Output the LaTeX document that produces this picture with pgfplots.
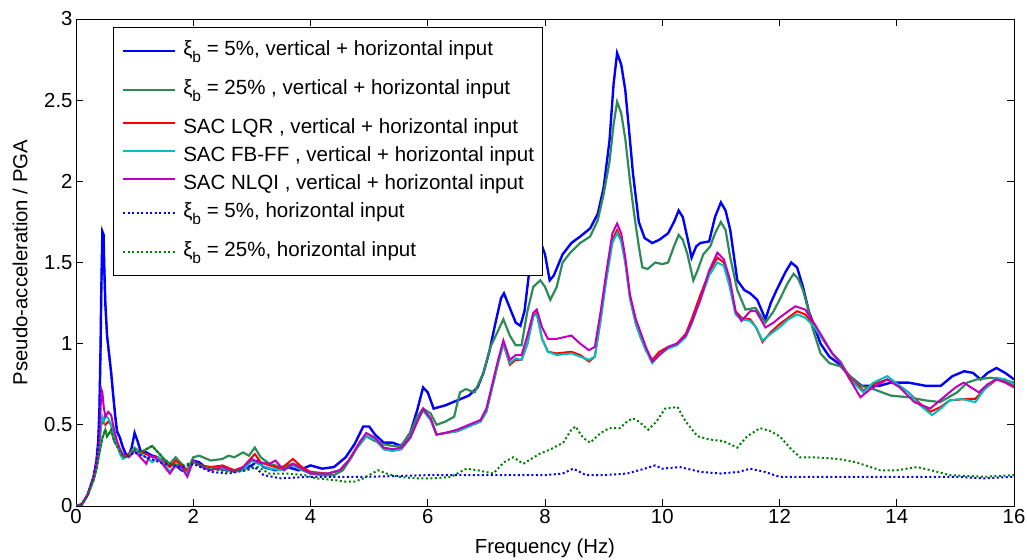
\documentclass[border=0pt]{standalone}
\usepackage{fontspec}
\setmainfont{Liberation Sans}
\usepackage{pgfplots}
\pgfplotsset{compat=1.18}
\definecolor{cB}{RGB}{0,0,255}
\definecolor{cG}{RGB}{46,139,87}
\definecolor{cR}{RGB}{255,0,0}
\definecolor{cC}{RGB}{0,191,191}
\definecolor{cM}{RGB}{191,0,191}
\definecolor{cGd}{RGB}{0,128,0}
\newcommand\sub[1]{\raisebox{-0.33em}{\fontsize{15.5}{15.5}\selectfont #1}}
\tikzset{xrow/.style={text height=24bp, text depth=15bp},
  prow/.style={text height=23.8bp, text depth=4.2bp}}
\begin{document}
\begin{tikzpicture}
\useasboundingbox (0,0) rectangle (1027bp,560bp);
\begin{axis}[
  at={(76bp,54bp)}, anchor=south west,
  width=938bp, height=487bp, scale only axis,
  xmin=0, xmax=16, ymin=0, ymax=3,
  xtick={0,2,...,16}, ytick={0,0.5,...,3},
  tick align=inside, major tick length=7bp,
  axis line style={black, line width=0.8bp},
  every tick/.style={black, line width=0.8bp},
  /pgf/number format/assume math mode=true,
  tick label style={font=\fontsize{20.4}{24}\selectfont},
  label style={font=\fontsize{20.4}{24}\selectfont},
  xlabel={Frequency (Hz)},
  ylabel={Pseudo-acceleration / PGA},
  xlabel style={at={(axis description cs:0.5,-0.0862)}, anchor=center},
  ylabel style={at={(axis description cs:-0.0597,0.5)}, anchor=center, rotate=0},
  legend image code/.code={\draw[#1] (0bp,0bp) -- (52bp,0bp);},
  legend style={at={(37bp,479bp)}, anchor=north west, draw=black, fill=white,
    line width=0.8bp, font=\fontsize{20.6}{24}\selectfont, cells={anchor=west},
    nodes={inner sep=0bp}, column sep=7bp,
    row sep=0bp, inner xsep=8.5bp, inner ysep=4bp},
  legend cell align=left,
]
\addplot[cB, line width=2.4bp] coordinates {
(0,0) (0.1,0.01) (0.2,0.07) (0.3,0.18) (0.35,0.28) (0.38,0.4) (0.4,0.6) (0.42,1.0) (0.43,1.3) (0.45,1.69) (0.47,1.67) (0.48,1.5) (0.5,1.25) (0.53,1.05) (0.56,0.95) (0.6,0.82) (0.63,0.7) (0.67,0.55) (0.7,0.46) (0.75,0.42) (0.8,0.36) (0.85,0.32) (0.9,0.31) (0.95,0.36) (1.0,0.45) (1.05,0.4) (1.1,0.34) (1.2,0.33) (1.3,0.31) (1.4,0.3) (1.5,0.27) (1.6,0.26) (1.7,0.25) (1.8,0.22) (1.9,0.21) (2.0,0.28) (2.1,0.27) (2.2,0.24) (2.4,0.23) (2.6,0.22) (2.8,0.22) (3.0,0.25) (3.1,0.28) (3.2,0.24) (3.4,0.22) (3.6,0.24) (3.8,0.22) (4.0,0.25) (4.2,0.23) (4.4,0.24) (4.6,0.3) (4.75,0.38) (4.9,0.49) (5.0,0.49) (5.1,0.44) (5.25,0.39) (5.4,0.39) (5.55,0.37) (5.7,0.45) (5.82,0.59) (5.92,0.73) (6.0,0.7) (6.1,0.6) (6.3,0.62) (6.5,0.65) (6.7,0.68) (6.85,0.73) (6.95,0.82) (7.05,0.95) (7.15,1.12) (7.25,1.28) (7.3,1.31) (7.4,1.22) (7.5,1.13) (7.58,1.11) (7.65,1.2) (7.75,1.5) (7.85,1.65) (7.95,1.6) (8.0,1.55) (8.08,1.39) (8.15,1.42) (8.3,1.55) (8.45,1.62) (8.6,1.66) (8.77,1.71) (8.9,1.8) (9.0,1.96) (9.1,2.25) (9.17,2.6) (9.23,2.79) (9.3,2.72) (9.37,2.56) (9.45,2.25) (9.5,2.05) (9.6,1.75) (9.7,1.65) (9.83,1.62) (9.95,1.64) (10.1,1.68) (10.2,1.75) (10.28,1.82) (10.35,1.78) (10.43,1.65) (10.5,1.53) (10.58,1.6) (10.65,1.62) (10.8,1.63) (10.9,1.78) (11.0,1.87) (11.08,1.82) (11.16,1.7) (11.28,1.39) (11.4,1.33) (11.5,1.31) (11.62,1.27) (11.76,1.15) (11.85,1.25) (11.95,1.33) (12.1,1.44) (12.2,1.5) (12.3,1.47) (12.4,1.35) (12.5,1.2) (12.6,1.1) (12.7,1.0) (12.85,0.92) (13.0,0.88) (13.2,0.8) (13.4,0.74) (13.7,0.74) (13.9,0.76) (14.2,0.76) (14.5,0.74) (14.75,0.74) (14.95,0.8) (15.15,0.83) (15.3,0.82) (15.43,0.78) (15.55,0.82) (15.7,0.85) (15.85,0.82) (16,0.78)
};
\addlegendentry[xrow]{ξ\sub{b} = 5\%, vertical + horizontal input}
\addplot[cG, line width=2.2bp] coordinates {
(0,0) (0.1,0.01) (0.2,0.07) (0.3,0.16) (0.35,0.23) (0.4,0.33) (0.45,0.42) (0.5,0.47) (0.53,0.43) (0.57,0.45) (0.6,0.47) (0.65,0.4) (0.7,0.37) (0.8,0.3) (0.9,0.31) (1.0,0.35) (1.1,0.33) (1.2,0.35) (1.3,0.37) (1.4,0.33) (1.5,0.29) (1.6,0.26) (1.7,0.3) (1.8,0.26) (1.9,0.22) (2.0,0.3) (2.1,0.31) (2.3,0.28) (2.5,0.29) (2.6,0.31) (2.7,0.3) (2.85,0.33) (2.95,0.31) (3.05,0.36) (3.15,0.3) (3.3,0.26) (3.5,0.24) (3.7,0.26) (3.85,0.24) (4.0,0.2) (4.2,0.19) (4.4,0.19) (4.55,0.22) (4.7,0.3) (4.85,0.4) (4.95,0.43) (5.1,0.4) (5.25,0.38) (5.4,0.37) (5.55,0.37) (5.7,0.45) (5.82,0.55) (5.92,0.6) (6.05,0.57) (6.15,0.5) (6.3,0.52) (6.45,0.55) (6.55,0.7) (6.65,0.72) (6.8,0.7) (6.95,0.82) (7.07,0.98) (7.2,1.08) (7.29,1.15) (7.4,1.05) (7.5,0.99) (7.6,0.99) (7.7,1.2) (7.8,1.35) (7.92,1.39) (8.0,1.35) (8.09,1.27) (8.2,1.35) (8.3,1.5) (8.43,1.56) (8.6,1.62) (8.77,1.66) (8.9,1.76) (9.0,1.92) (9.1,2.12) (9.17,2.35) (9.23,2.49) (9.3,2.42) (9.37,2.26) (9.45,2.0) (9.52,1.8) (9.6,1.6) (9.66,1.47) (9.75,1.46) (9.88,1.5) (10.0,1.49) (10.1,1.5) (10.2,1.6) (10.28,1.67) (10.35,1.64) (10.43,1.55) (10.53,1.39) (10.6,1.45) (10.7,1.55) (10.82,1.6) (10.9,1.68) (11.0,1.75) (11.08,1.7) (11.16,1.53) (11.28,1.33) (11.42,1.21) (11.59,1.22) (11.76,1.13) (11.9,1.2) (12.0,1.27) (12.15,1.38) (12.24,1.43) (12.32,1.4) (12.4,1.33) (12.5,1.2) (12.56,1.1) (12.7,0.94) (12.85,0.88) (13.04,0.86) (13.2,0.8) (13.38,0.74) (13.6,0.72) (13.9,0.68) (14.2,0.67) (14.5,0.65) (14.74,0.64) (15.03,0.7) (15.2,0.76) (15.37,0.78) (15.6,0.79) (15.8,0.78) (16,0.76)
};
\addlegendentry[xrow]{ξ\sub{b} = 25\% , vertical + horizontal input}
\addplot[cR, line width=2bp] coordinates {
(0,0) (0.1,0.01) (0.2,0.07) (0.3,0.17) (0.35,0.26) (0.4,0.4) (0.43,0.5) (0.45,0.52) (0.5,0.5) (0.55,0.52) (0.6,0.5) (0.65,0.44) (0.7,0.38) (0.75,0.33) (0.8,0.3) (0.9,0.32) (1.0,0.36) (1.1,0.33) (1.2,0.32) (1.3,0.3) (1.4,0.3) (1.5,0.27) (1.6,0.24) (1.7,0.28) (1.8,0.25) (1.9,0.21) (2.0,0.27) (2.15,0.25) (2.3,0.24) (2.5,0.25) (2.7,0.22) (2.85,0.24) (3.05,0.32) (3.15,0.27) (3.3,0.25) (3.5,0.23) (3.7,0.29) (3.85,0.24) (4.0,0.21) (4.3,0.2) (4.5,0.22) (4.65,0.28) (4.8,0.36) (4.95,0.43) (5.1,0.41) (5.25,0.35) (5.4,0.34) (5.55,0.35) (5.7,0.42) (5.82,0.52) (5.92,0.59) (6.05,0.53) (6.15,0.44) (6.3,0.45) (6.5,0.46) (6.7,0.49) (6.9,0.52) (7.0,0.58) (7.1,0.73) (7.2,0.88) (7.29,1.0) (7.4,0.87) (7.5,0.9) (7.6,0.9) (7.7,1.0) (7.8,1.17) (7.86,1.19) (7.95,1.03) (8.05,0.95) (8.2,0.94) (8.45,0.95) (8.6,0.93) (8.75,0.89) (8.85,0.92) (8.95,1.15) (9.05,1.42) (9.15,1.64) (9.23,1.7) (9.3,1.64) (9.37,1.5) (9.45,1.28) (9.55,1.12) (9.62,1.05) (9.72,0.96) (9.83,0.9) (9.95,0.95) (10.1,0.98) (10.25,1.0) (10.4,1.06) (10.5,1.15) (10.65,1.3) (10.8,1.44) (10.94,1.53) (11.05,1.5) (11.15,1.37) (11.25,1.2) (11.35,1.16) (11.5,1.15) (11.6,1.1) (11.71,1.01) (11.85,1.07) (12.0,1.12) (12.15,1.16) (12.3,1.2) (12.44,1.18) (12.6,1.11) (12.75,1.02) (12.9,0.94) (13.04,0.89) (13.2,0.79) (13.43,0.71) (13.6,0.75) (13.84,0.78) (14.05,0.74) (14.2,0.7) (14.4,0.63) (14.57,0.58) (14.75,0.61) (14.9,0.65) (15.2,0.66) (15.34,0.66) (15.5,0.72) (15.7,0.78) (15.85,0.77) (16,0.74)
};
\addlegendentry[prow]{SAC LQR , vertical + horizontal input}
\addplot[cC, line width=2bp] coordinates {
(0,0) (0.1,0.01) (0.2,0.07) (0.3,0.17) (0.35,0.26) (0.4,0.4) (0.43,0.5) (0.45,0.55) (0.48,0.52) (0.5,0.56) (0.55,0.54) (0.6,0.5) (0.65,0.44) (0.7,0.38) (0.75,0.32) (0.8,0.29) (0.9,0.31) (1.0,0.36) (1.1,0.32) (1.2,0.3) (1.3,0.27) (1.4,0.3) (1.5,0.26) (1.6,0.21) (1.7,0.26) (1.8,0.23) (1.9,0.2) (2.0,0.27) (2.15,0.24) (2.3,0.23) (2.5,0.23) (2.7,0.21) (2.85,0.22) (3.0,0.28) (3.1,0.26) (3.3,0.23) (3.5,0.22) (3.7,0.25) (3.85,0.22) (4.0,0.2) (4.3,0.2) (4.5,0.22) (4.65,0.28) (4.8,0.36) (4.95,0.43) (5.1,0.41) (5.25,0.35) (5.4,0.34) (5.55,0.35) (5.7,0.42) (5.82,0.52) (5.92,0.59) (6.05,0.53) (6.15,0.44) (6.3,0.45) (6.5,0.46) (6.7,0.49) (6.9,0.52) (7.0,0.58) (7.1,0.73) (7.2,0.88) (7.29,1.0) (7.4,0.88) (7.5,0.91) (7.6,0.9) (7.7,1.0) (7.8,1.17) (7.86,1.18) (7.95,1.03) (8.05,0.95) (8.2,0.93) (8.45,0.94) (8.6,0.92) (8.75,0.9) (8.85,0.92) (8.95,1.15) (9.05,1.4) (9.15,1.62) (9.23,1.68) (9.3,1.63) (9.37,1.5) (9.45,1.28) (9.55,1.12) (9.62,1.05) (9.72,0.96) (9.83,0.88) (9.95,0.93) (10.1,0.97) (10.25,0.99) (10.4,1.04) (10.5,1.12) (10.65,1.27) (10.8,1.42) (10.94,1.5) (11.05,1.48) (11.15,1.35) (11.25,1.18) (11.35,1.15) (11.5,1.14) (11.6,1.1) (11.71,1.02) (11.85,1.06) (12.0,1.1) (12.15,1.15) (12.3,1.18) (12.44,1.16) (12.6,1.1) (12.75,1.02) (12.9,0.94) (13.04,0.89) (13.2,0.78) (13.43,0.7) (13.6,0.76) (13.84,0.8) (14.05,0.74) (14.2,0.7) (14.4,0.62) (14.6,0.56) (14.75,0.6) (14.9,0.65) (15.1,0.66) (15.34,0.64) (15.5,0.72) (15.7,0.79) (15.85,0.78) (16,0.75)
};
\addlegendentry[prow]{SAC FB-FF , vertical + horizontal input}
\addplot[cM, line width=2bp] coordinates {
(0,0) (0.1,0.01) (0.2,0.07) (0.3,0.18) (0.35,0.27) (0.4,0.42) (0.42,0.6) (0.43,0.72) (0.45,0.7) (0.47,0.62) (0.5,0.55) (0.55,0.58) (0.6,0.56) (0.65,0.47) (0.7,0.4) (0.75,0.35) (0.8,0.32) (0.9,0.3) (1.0,0.34) (1.1,0.3) (1.2,0.26) (1.25,0.31) (1.35,0.3) (1.45,0.27) (1.6,0.2) (1.7,0.25) (1.8,0.24) (1.9,0.18) (2.0,0.28) (2.15,0.24) (2.3,0.22) (2.5,0.24) (2.7,0.21) (2.85,0.24) (3.0,0.29) (3.1,0.27) (3.3,0.26) (3.4,0.28) (3.55,0.22) (3.7,0.26) (3.85,0.23) (4.0,0.2) (4.3,0.2) (4.5,0.22) (4.65,0.28) (4.8,0.37) (4.95,0.45) (5.1,0.42) (5.25,0.36) (5.4,0.35) (5.55,0.36) (5.7,0.42) (5.82,0.52) (5.92,0.6) (6.05,0.54) (6.15,0.44) (6.3,0.45) (6.5,0.47) (6.7,0.5) (6.9,0.53) (7.0,0.6) (7.1,0.75) (7.2,0.9) (7.29,1.02) (7.4,0.9) (7.5,0.93) (7.6,0.93) (7.7,1.05) (7.8,1.19) (7.86,1.21) (7.95,1.1) (8.05,1.03) (8.2,1.03) (8.45,1.05) (8.6,1.0) (8.75,0.96) (8.85,0.98) (8.95,1.2) (9.05,1.45) (9.15,1.68) (9.23,1.74) (9.3,1.68) (9.37,1.53) (9.45,1.3) (9.55,1.15) (9.62,1.08) (9.72,0.98) (9.83,0.89) (9.95,0.93) (10.1,0.98) (10.25,1.0) (10.4,1.05) (10.5,1.13) (10.65,1.27) (10.8,1.45) (10.94,1.56) (11.05,1.52) (11.15,1.4) (11.25,1.2) (11.35,1.14) (11.5,1.2) (11.6,1.2) (11.76,1.1) (11.9,1.13) (12.0,1.16) (12.15,1.2) (12.27,1.23) (12.44,1.21) (12.6,1.12) (12.75,1.03) (12.9,0.94) (13.04,0.88) (13.2,0.78) (13.38,0.67) (13.55,0.72) (13.84,0.78) (14.05,0.73) (14.3,0.64) (14.57,0.6) (14.8,0.67) (15.0,0.73) (15.14,0.76) (15.27,0.73) (15.4,0.7) (15.55,0.75) (15.7,0.78) (15.85,0.76) (16,0.73)
};
\addlegendentry[prow]{SAC NLQI , vertical + horizontal input}
\addplot[cB, line width=2bp, dash pattern=on 2bp off 2.5bp] coordinates {
(0,0) (0.1,0.01) (0.2,0.07) (0.3,0.18) (0.35,0.28) (0.38,0.4) (0.4,0.6) (0.42,1.0) (0.43,1.3) (0.45,1.69) (0.47,1.67) (0.48,1.5) (0.5,1.25) (0.53,1.05) (0.56,0.95) (0.6,0.82) (0.63,0.7) (0.67,0.55) (0.7,0.46) (0.75,0.42) (0.8,0.36) (0.85,0.32) (0.9,0.31) (1.0,0.33) (1.2,0.3) (1.5,0.26) (1.8,0.24) (2.0,0.26) (2.3,0.21) (2.6,0.2) (2.9,0.22) (3.05,0.24) (3.2,0.19) (3.5,0.17) (4.0,0.18) (5.0,0.18) (6.0,0.19) (7.0,0.19) (7.5,0.19) (8.0,0.19) (8.3,0.2) (8.48,0.23) (8.7,0.19) (9.0,0.19) (9.4,0.2) (9.7,0.23) (9.88,0.25) (10.0,0.23) (10.3,0.24) (10.65,0.21) (11.0,0.2) (11.3,0.21) (11.5,0.23) (11.75,0.21) (12.0,0.18) (13,0.18) (14,0.18) (15,0.18) (15.5,0.17) (16,0.18)
};
\addlegendentry[xrow]{ξ\sub{b} = 5\%, horizontal input}
\addplot[cGd, line width=2bp, dash pattern=on 2bp off 2.5bp] coordinates {
(0,0) (0.1,0.01) (0.2,0.07) (0.3,0.16) (0.35,0.23) (0.4,0.33) (0.45,0.42) (0.5,0.47) (0.53,0.43) (0.57,0.45) (0.6,0.47) (0.65,0.4) (0.7,0.37) (0.8,0.3) (0.9,0.31) (1.0,0.35) (1.1,0.33) (1.2,0.35) (1.3,0.37) (1.4,0.33) (1.5,0.29) (1.6,0.26) (1.8,0.25) (2.0,0.27) (2.3,0.23) (2.6,0.21) (2.9,0.22) (3.1,0.24) (3.3,0.2) (3.6,0.2) (3.9,0.19) (4.1,0.17) (4.4,0.16) (4.6,0.15) (4.75,0.15) (4.9,0.17) (5.05,0.2) (5.15,0.22) (5.3,0.2) (5.5,0.18) (5.8,0.17) (6.1,0.17) (6.4,0.18) (6.66,0.23) (6.85,0.22) (7.12,0.2) (7.3,0.27) (7.46,0.3) (7.63,0.26) (7.9,0.32) (8.1,0.35) (8.31,0.39) (8.45,0.47) (8.52,0.49) (8.65,0.42) (8.77,0.39) (8.95,0.45) (9.1,0.48) (9.28,0.48) (9.4,0.52) (9.5,0.54) (9.6,0.52) (9.76,0.47) (9.9,0.52) (10.05,0.6) (10.26,0.61) (10.4,0.52) (10.6,0.43) (10.8,0.41) (11.04,0.4) (11.28,0.36) (11.45,0.43) (11.67,0.48) (11.85,0.46) (12.0,0.43) (12.2,0.35) (12.35,0.3) (12.6,0.3) (13.0,0.29) (13.3,0.27) (13.72,0.22) (14.0,0.22) (14.35,0.24) (14.7,0.21) (14.9,0.19) (15.5,0.18) (16,0.19)
};
\addlegendentry[xrow]{ξ\sub{b} = 25\%, horizontal input}
\end{axis}
\end{tikzpicture}
\end{document}
